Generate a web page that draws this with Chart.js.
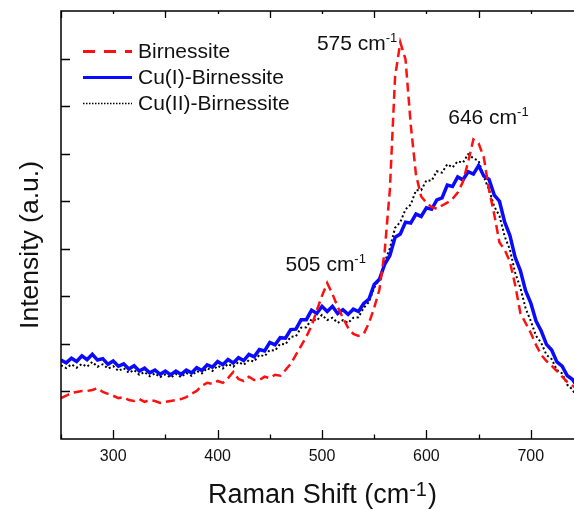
<!DOCTYPE html>
<html>
<head>
<meta charset="utf-8">
<script src="https://cdn.jsdelivr.net/npm/chart.js@4.4.1/dist/chart.umd.min.js"></script>
<style>
  html, body { margin: 0; padding: 0; background: #fff; overflow: hidden; }
  canvas { display: block; }
</style>
</head>
<body>
<canvas id="raman" width="590" height="510"></canvas>
<script>
// Raman shift (cm-1)
const shift = [
  250, 255, 260, 265, 270, 275, 280, 285, 290, 295,
  300, 305, 310, 315, 320, 325, 330, 335, 340, 345,
  350, 355, 360, 365, 370, 375, 380, 385, 390, 395,
  400, 405, 410, 415, 420, 425, 430, 435, 440, 445,
  450, 455, 460, 465, 470, 475, 480, 485, 490, 495,
  500, 505, 510, 515, 520, 525, 530, 535, 540, 545,
  550, 555, 560, 565, 570, 575, 580, 585, 590, 595,
  600, 605, 610, 615, 620, 625, 630, 635, 640, 645,
  650, 655, 660, 665, 670, 675, 680, 685, 690, 695,
  700, 705, 710, 715, 720, 725, 730, 735, 740, 745
];

// intensities (a.u.)
const birnessite = [
  0.86, 0.91, 0.97, 0.99, 1.01, 1.01, 1.03, 1.07, 0.99, 0.95,
  0.91, 0.86, 0.88, 0.82, 0.80, 0.84, 0.78, 0.82, 0.80, 0.76,
  0.78, 0.80, 0.82, 0.84, 0.88, 0.95, 1.01, 1.12, 1.18, 1.16,
  1.22, 1.18, 1.28, 1.41, 1.26, 1.22, 1.31, 1.24, 1.24, 1.31,
  1.28, 1.35, 1.33, 1.45, 1.58, 1.77, 1.96, 2.15, 2.38, 2.70,
  3.01, 3.28, 3.05, 2.78, 2.55, 2.34, 2.21, 2.17, 2.21, 2.44,
  2.76, 3.14, 3.94, 5.24, 7.62, 8.34, 7.98, 6.61, 5.56, 5.10,
  4.97, 4.88, 4.84, 4.91, 4.97, 5.05, 5.18, 5.41, 5.83, 6.30,
  6.22, 5.92, 5.24, 4.72, 4.13, 3.98, 3.73, 3.24, 2.65, 2.44,
  2.23, 1.98, 1.77, 1.64, 1.54, 1.43, 1.31, 1.20, 1.12, 1.05
];

const cuIBirnessite = [
  1.66, 1.60, 1.70, 1.63, 1.75, 1.67, 1.78, 1.66, 1.69, 1.57,
  1.64, 1.53, 1.58, 1.47, 1.54, 1.43, 1.49, 1.39, 1.45, 1.36,
  1.43, 1.35, 1.43, 1.36, 1.45, 1.39, 1.50, 1.44, 1.56, 1.51,
  1.63, 1.56, 1.67, 1.60, 1.71, 1.65, 1.78, 1.73, 1.88, 1.85,
  2.03, 1.98, 2.13, 2.12, 2.30, 2.31, 2.51, 2.51, 2.71, 2.64,
  2.79, 2.68, 2.79, 2.64, 2.72, 2.62, 2.73, 2.68, 2.85, 2.94,
  3.25, 3.36, 3.67, 3.86, 4.24, 4.31, 4.56, 4.54, 4.73, 4.68,
  4.86, 4.83, 5.03, 5.07, 5.34, 5.31, 5.51, 5.45, 5.62, 5.57,
  5.75, 5.53, 5.46, 5.13, 5.00, 4.56, 4.28, 3.82, 3.54, 3.12,
  2.86, 2.48, 2.27, 1.99, 1.87, 1.62, 1.53, 1.33, 1.25, 1.08
];

const cuIIBirnessite = [
  1.55, 1.49, 1.57, 1.50, 1.58, 1.52, 1.62, 1.52, 1.57, 1.48,
  1.53, 1.43, 1.49, 1.39, 1.45, 1.35, 1.41, 1.32, 1.38, 1.30,
  1.36, 1.29, 1.37, 1.30, 1.39, 1.33, 1.43, 1.38, 1.49, 1.43,
  1.54, 1.48, 1.58, 1.52, 1.62, 1.56, 1.66, 1.63, 1.77, 1.74,
  1.87, 1.86, 2.00, 1.99, 2.15, 2.16, 2.34, 2.35, 2.52, 2.49,
  2.61, 2.50, 2.55, 2.44, 2.50, 2.44, 2.55, 2.56, 2.76, 2.88,
  3.18, 3.36, 3.72, 4.01, 4.44, 4.56, 4.83, 4.93, 5.23, 5.23,
  5.44, 5.43, 5.63, 5.60, 5.78, 5.71, 5.84, 5.81, 5.99, 5.90,
  5.85, 5.51, 5.24, 4.89, 4.69, 4.26, 3.98, 3.50, 3.18, 2.75,
  2.48, 2.17, 2.02, 1.77, 1.68, 1.45, 1.38, 1.14, 1.04, 0.84
];

const seriesNames = ["Birnessite", "Cu(I)-Birnessite", "Cu(II)-Birnessite"];
const xMajorTicks = [300, 400, 500, 600, 700];
const xMinorTicks = [250, 350, 450, 550, 650, 750];
const yTicks = [1, 2, 3, 4, 5, 6, 7, 8];
const peaks = [505, 575, 646];

const FONT = '"Liberation Sans", Arial, Helvetica, sans-serif';
const font = size => `${size}px ${FONT}`;
const INK = "#111";

const styles = [
  { color: "#ff1010", width: 2.5, dash: [9, 5], legendDash: [12, 9] },
  { color: "#0a0aff", width: 3.5, dash: [], legendDash: [] },
  { color: "#000000", width: 2, dash: [2, 2.5], legendDash: [1.5, 1.5] }
];
const values = [birnessite, cuIBirnessite, cuIIBirnessite];

// text with a raised "-1" exponent, left aligned at x on baseline y
function supText(ctx, x, y, base, size, supSize, rise, tail) {
  ctx.font = font(size);
  const w1 = ctx.measureText(base).width;
  ctx.font = font(supSize);
  const w2 = ctx.measureText("-1").width;
  ctx.font = font(size);
  const w3 = tail ? ctx.measureText(tail).width : 0;
  if (x === null) return w1 + w2 + w3;
  ctx.textAlign = "left";
  ctx.textBaseline = "alphabetic";
  ctx.fillText(base, x, y);
  ctx.font = font(supSize);
  ctx.fillText("-1", x + w1, y - rise);
  if (tail) {
    ctx.font = font(size);
    ctx.fillText(tail, x + w1 + w2 + 1, y);
  }
  return w1 + w2 + w3;
}

const decorations = {
  id: "decorations",
  afterDatasetsDraw(chart) {
    const { ctx, chartArea: a, scales } = chart;
    const xs = scales.x, ys = scales.y;
    ctx.save();

    // frame
    ctx.strokeStyle = "#000";
    ctx.lineWidth = 1.5;
    ctx.strokeRect(a.left, a.top, a.right - a.left, a.bottom - a.top);

    // inward ticks
    ctx.lineWidth = 1.3;
    ctx.beginPath();
    const xt = (v, lb, lt) => {
      const px = Math.round(xs.getPixelForValue(v)) + 0.5;
      ctx.moveTo(px, a.bottom); ctx.lineTo(px, a.bottom - lb);
      ctx.moveTo(px, a.top); ctx.lineTo(px, a.top + lt);
    };
    xMajorTicks.forEach(v => xt(v, 9, 3));
    xMinorTicks.forEach(v => xt(v, 4.5, 7));
    yTicks.forEach(v => {
      const py = Math.round(ys.getPixelForValue(v)) + 0.5;
      ctx.moveTo(a.left, py); ctx.lineTo(a.left + 9, py);
      ctx.moveTo(a.right, py); ctx.lineTo(a.right - (v % 2 === 0 ? 9 : 4.5), py);
    });
    ctx.stroke();

    ctx.fillStyle = INK;

    // x axis title
    const cx = (a.left + a.right) / 2;
    const tw = supText(ctx, null, 0, "Raman Shift (cm", 27, 20, 7, ")");
    supText(ctx, cx - tw / 2, 503, "Raman Shift (cm", 27, 20, 7, ")");

    // y axis title
    ctx.save();
    ctx.translate(38, 245);
    ctx.rotate(-Math.PI / 2);
    ctx.font = font(26.5);
    ctx.textAlign = "center";
    ctx.textBaseline = "alphabetic";
    ctx.fillText("Intensity (a.u.)", 0, 0);
    ctx.restore();

    // peak labels
    const peakLabel = (p, place) => {
      let i = 0;
      shift.forEach((s, k) => { if (Math.abs(s - p) < Math.abs(shift[i] - p)) i = k; });
      const px = xs.getPixelForValue(p);
      const py = ys.getPixelForValue(birnessite[i]);
      const w = supText(ctx, null, 0, `${p} cm`, 21, 13, 8);
      const [x, y] = place(px, py, w);
      supText(ctx, x, y, `${p} cm`, 21, 13, 8);
    };
    peakLabel(peaks[0], (px, py, w) => [px - 1.5 - w / 2, py - 12]);
    peakLabel(peaks[1], (px, py, w) => [px - 3 - w, py + 8]);
    peakLabel(peaks[2], (px, py, w) => [px + 14 - w / 2, py - 15]);

    // legend
    const rows = [51.5, 77.5, 103.5];
    seriesNames.forEach((name, k) => {
      const st = styles[k];
      ctx.strokeStyle = st.color;
      ctx.lineWidth = k === 2 ? 1.6 : 3;
      ctx.setLineDash(st.legendDash);
      ctx.beginPath();
      ctx.moveTo(83, rows[k]);
      ctx.lineTo(132, rows[k]);
      ctx.stroke();
      ctx.setLineDash([]);
      ctx.fillStyle = INK;
      ctx.font = font(21);
      ctx.textAlign = "left";
      ctx.textBaseline = "middle";
      ctx.fillText(name, 138, rows[k] + 1);
    });

    ctx.restore();
  }
};

new Chart(document.getElementById("raman"), {
  type: "line",
  data: {
    datasets: seriesNames.map((name, k) => ({
      label: name,
      data: shift.map((x, i) => ({ x, y: values[k][i] })),
      borderColor: styles[k].color,
      borderWidth: styles[k].width,
      borderDash: styles[k].dash,
      pointRadius: 0,
      tension: 0,
      fill: false
    }))
  },
  options: {
    responsive: false,
    animation: false,
    layout: { padding: { left: 61, top: 11, right: 7, bottom: 0 } },
    plugins: { legend: { display: false }, tooltip: { enabled: false } },
    scales: {
      x: {
        type: "linear",
        min: 250,
        max: 750,
        grid: { display: false, drawTicks: false },
        border: { display: false },
        afterBuildTicks: s => { s.ticks = xMajorTicks.map(v => ({ value: v })); },
        afterFit: s => { s.height = 71; },
        ticks: { padding: 8, color: INK, font: { family: FONT, size: 16 } }
      },
      y: { display: false, min: 0, max: 9 }
    }
  },
  plugins: [decorations]
});
</script>
</body>
</html>
